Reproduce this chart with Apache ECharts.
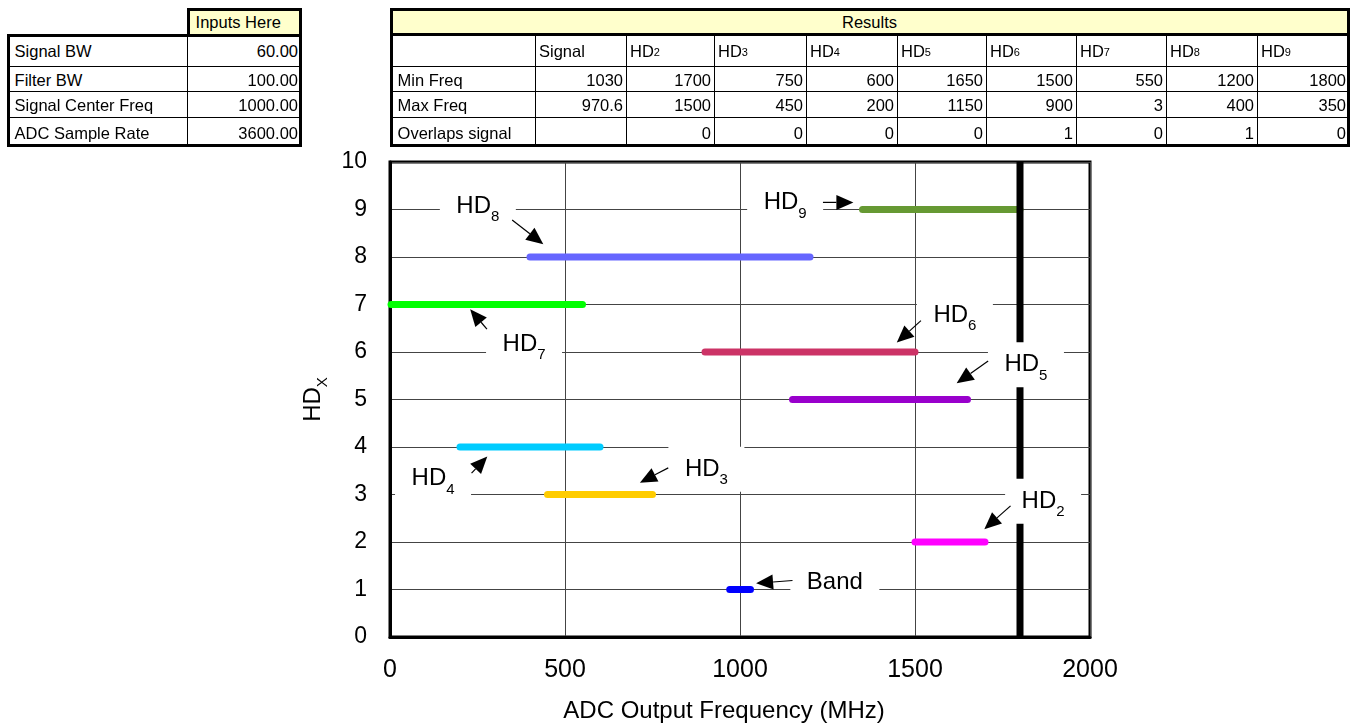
<!DOCTYPE html>
<html>
<head>
<meta charset="utf-8">
<script src="https://cdn.jsdelivr.net/npm/echarts@6/dist/echarts.min.js"></script>
<style>
html,body{margin:0;padding:0;background:#fff;overflow:hidden;}
#chart{position:absolute;left:0;top:0;width:1354px;height:723px;}
#tables{position:absolute;left:0;top:0;width:1354px;height:160px;z-index:5;}
.cell{position:absolute;box-sizing:border-box;border-right:1px solid #000;border-bottom:1px solid #000;
  font-family:'Liberation Sans',Arial,sans-serif;font-size:16.5px;color:#000;display:flex;align-items:center;
  padding:2px 3px 0 3px;white-space:nowrap;background:#fff;overflow:hidden;}
.frame{position:absolute;box-sizing:border-box;border:3px solid #000;pointer-events:none;}
.hline{position:absolute;background:#000;}
sub{font-size:11px;vertical-align:-4px;line-height:0;}
</style>
</head>
<body>
<div id="chart"></div>
<div id="tables"></div>
<script>
// ---------------- data ----------------
const inputLabels = ['Signal BW', 'Filter BW', 'Signal Center Freq', 'ADC Sample Rate'];
const inputValues = [60, 100, 1000, 3600];

const resultNames = ['Signal', 'HD2', 'HD3', 'HD4', 'HD5', 'HD6', 'HD7', 'HD8', 'HD9'];
const resultRowLabels = ['Min Freq', 'Max Freq', 'Overlaps signal'];
const minFreq = [1030, 1700, 750, 600, 1650, 1500, 550, 1200, 1800];
const maxFreq = [970.6, 1500, 450, 200, 1150, 900, 3, 400, 350];
const overlaps = ['', 0, 0, 0, 0, 1, 0, 1, 0];

const seriesNames = ['Band', 'HD2', 'HD3', 'HD4', 'HD5', 'HD6', 'HD7', 'HD8', 'HD9'];
const barLevel = [1, 2, 3, 4, 5, 6, 7, 8, 9];
const barStart = [970.6, 1500, 450, 200, 1150, 900, 3, 400, 1350];
const barEnd   = [1030, 1700, 750, 600, 1650, 1500, 550, 1200, 1800];
const nyquist = 1800;

const xTicks = [0, 500, 1000, 1500, 2000];
const yTicks = [0, 1, 2, 3, 4, 5, 6, 7, 8, 9, 10];

// ---------------- styles / annotation placement ----------------
const barColors = ['#0000FF', '#FF00FF', '#FFCC00', '#00CCFF', '#9900CC', '#CC3366', '#00FF00', '#6666FF', '#669933'];
// label centre, arrow start, arrow tip (data coordinates)
const annotations = [
  { name: 'Band', at: [1271, 1.15], from: [1150, 1.19], to: [1046, 1.13] },
  { name: 'HD2',  at: [1866, 2.86], from: [1773, 2.76], to: [1698, 2.27] },
  { name: 'HD3',  at: [904, 3.53],  from: [795, 3.56],  to: [714, 3.25] },
  { name: 'HD4',  at: [123, 3.33],  from: [233, 3.45],  to: [278, 3.80] },
  { name: 'HD5',  at: [1817, 5.73], from: [1709, 5.81], to: [1619, 5.34] },
  { name: 'HD6',  at: [1614, 6.78], from: [1517, 6.66], to: [1448, 6.20] },
  { name: 'HD7',  at: [383, 6.17],  from: [277, 6.48],  to: [229, 6.90] },
  { name: 'HD8',  at: [251, 9.07],  from: [349, 8.78],  to: [438, 8.27] },
  { name: 'HD9',  at: [1129, 9.15], from: [1237, 9.15], to: [1324, 9.15] }
];

const FONT = "'Liberation Sans', Arial, sans-serif";

// ---------------- tables ----------------
const T = document.getElementById('tables');
function subHTML(s) { return s.replace(/^HD(\d)$/, 'HD<sub>$1</sub>'); }
function cell(x0, y0, x1, y1, html, align, bg) {
  const d = document.createElement('div');
  d.className = 'cell';
  d.style.left = x0 + 'px'; d.style.top = y0 + 'px';
  d.style.width = (x1 - x0) + 'px'; d.style.height = (y1 - y0) + 'px';
  d.style.justifyContent = align === 'right' ? 'flex-end' : (align === 'center' ? 'center' : 'flex-start');
  if (bg) d.style.background = bg;
  d.innerHTML = html;
  T.appendChild(d);
}
function frame(x0, y0, x1, y1) {
  const d = document.createElement('div');
  d.className = 'frame';
  d.style.left = x0 + 'px'; d.style.top = y0 + 'px';
  d.style.width = (x1 - x0) + 'px'; d.style.height = (y1 - y0) + 'px';
  T.appendChild(d);
}
const rowY = [35, 67, 92, 118, 147];
const YELLOW = '#FFFFCC';
// inputs table
cell(188, 8, 302, 35, '&nbsp;Inputs Here', 'left', YELLOW);
inputLabels.forEach((lab, i) => {
  cell(7, rowY[i], 188, rowY[i + 1], '&nbsp;' + lab, 'left');
  cell(188, rowY[i], 302, rowY[i + 1], inputValues[i].toFixed(2), 'right');
});
frame(187, 8, 302, 37);
frame(7, 34, 302, 147);

// results table
const colX = [390, 536, 627, 715, 807, 898, 987, 1077, 1167, 1258, 1350];
cell(390, 8, 1350, 35, 'Results', 'center', YELLOW);
cell(colX[0], rowY[0], colX[1], rowY[1], '', 'left');
resultNames.forEach((n, j) => cell(colX[j + 1], rowY[0], colX[j + 2], rowY[1], subHTML(n), 'left'));
const rowsData = [minFreq, maxFreq, overlaps];
resultRowLabels.forEach((lab, r) => {
  cell(colX[0], rowY[r + 1], colX[1], rowY[r + 2], '&nbsp;' + lab, 'left');
  rowsData[r].forEach((v, j) => cell(colX[j + 1], rowY[r + 1], colX[j + 2], rowY[r + 2], String(v), 'right'));
});
frame(390, 8, 1350, 147);
const hl = document.createElement('div');
hl.className = 'hline';
hl.style.left = '390px'; hl.style.top = '33px'; hl.style.width = '960px'; hl.style.height = '3px';
T.appendChild(hl);

// ---------------- chart ----------------
const chart = echarts.init(document.getElementById('chart'), null, { renderer: 'canvas' });

const series = barLevel.map((lv, i) => ({
  type: 'line',
  name: seriesNames[i],
  data: [[barStart[i], lv], [barEnd[i], lv]],
  symbol: 'none',
  lineStyle: { color: barColors[i], width: 7, cap: 'round' },
  z: 3,
  animation: false
}));
series.push({
  type: 'line',
  name: 'Nyquist',
  data: [[nyquist, yTicks[0]], [nyquist, yTicks[yTicks.length - 1]]],
  symbol: 'none',
  lineStyle: { color: '#000', width: 7 },
  z: 4,
  animation: false
});

const axisLineStyle = { show: true, lineStyle: { color: '#000', width: 3 } };
chart.setOption({
  animation: false,
  backgroundColor: '#fff',
  grid: {
    left: 390, right: 264, top: 162, bottom: 86, show: true, borderColor: '#000', borderWidth: 3,
    containLabel: false, outerBoundsMode: 'none'
  },
  xAxis: {
    type: 'value', min: xTicks[0], max: xTicks[xTicks.length - 1], interval: xTicks[1] - xTicks[0],
    axisLine: axisLineStyle, axisTick: { show: false },
    splitLine: { show: true, lineStyle: { color: '#444', width: 1 } },
    axisLabel: { fontSize: 25, color: '#000', margin: 21, fontFamily: FONT, formatter: v => String(v) },
    name: 'ADC Output Frequency (MHz)', nameLocation: 'middle', nameGap: 62,
    nameTextStyle: { fontSize: 24, color: '#000', fontFamily: FONT, padding: [0, 32, 0, 0] }
  },
  yAxis: {
    type: 'value', min: yTicks[0], max: yTicks[yTicks.length - 1], interval: yTicks[1] - yTicks[0],
    axisLine: axisLineStyle, axisTick: { show: false },
    splitLine: { show: true, lineStyle: { color: '#444', width: 1 } },
    axisLabel: { fontSize: 23, color: '#000', margin: 23, fontFamily: FONT, formatter: v => String(v) },
    name: '{m|HD}{s|X}', nameLocation: 'middle', nameRotate: 90, nameGap: 58,
    nameTextStyle: {
      color: '#000', fontFamily: FONT,
      rich: {
        m: { fontSize: 24, color: '#000', fontFamily: FONT },
        s: { fontSize: 15, color: '#000', fontFamily: FONT, padding: [20, 0, 0, 0] }
      }
    }
  },
  series: series
});

// annotations: white label boxes + arrows, positioned through the axes
function labelRich(name) {
  const m = name.match(/^HD(\d)$/);
  return m ? '{m|HD}{s|' + m[1] + '}' : '{m|' + name + '}';
}
const rich = {
  m: { fontSize: 24, fill: '#000', fontFamily: FONT },
  s: { fontSize: 15, fill: '#000', fontFamily: FONT, padding: [22, 0, 0, 0] }
};
const elements = [];
annotations.forEach(a => {
  const c = chart.convertToPixel({ gridIndex: 0 }, a.at);
  const w = a.name === 'Band' ? 89 : 76, h = 45;
  elements.push({ type: 'rect', shape: { x: c[0] - w / 2, y: c[1] - h / 2, width: w, height: h }, style: { fill: '#fff' }, z: 50 });
  elements.push({
    type: 'text', x: c[0], y: c[1], z: 51,
    style: { text: labelRich(a.name), rich: rich, align: 'center', verticalAlign: 'middle', fill: '#000', fontFamily: FONT, fontSize: 24 }
  });
  const p0 = chart.convertToPixel({ gridIndex: 0 }, a.from);
  const p1 = chart.convertToPixel({ gridIndex: 0 }, a.to);
  const dx = p1[0] - p0[0], dy = p1[1] - p0[1];
  const len = Math.sqrt(dx * dx + dy * dy);
  const ux = dx / len, uy = dy / len;
  const hl = 17, hw = 7.5;
  const bx = p1[0] - ux * hl, by = p1[1] - uy * hl;
  elements.push({ type: 'line', shape: { x1: p0[0], y1: p0[1], x2: bx, y2: by }, style: { stroke: '#000', lineWidth: 1.2 }, z: 52 });
  elements.push({
    type: 'polygon', z: 52,
    shape: { points: [[p1[0], p1[1]], [bx - uy * hw, by + ux * hw], [bx + uy * hw, by - ux * hw]] },
    style: { fill: '#000' }
  });
});
chart.setOption({ graphic: { elements: elements } });
</script>
</body>
</html>
